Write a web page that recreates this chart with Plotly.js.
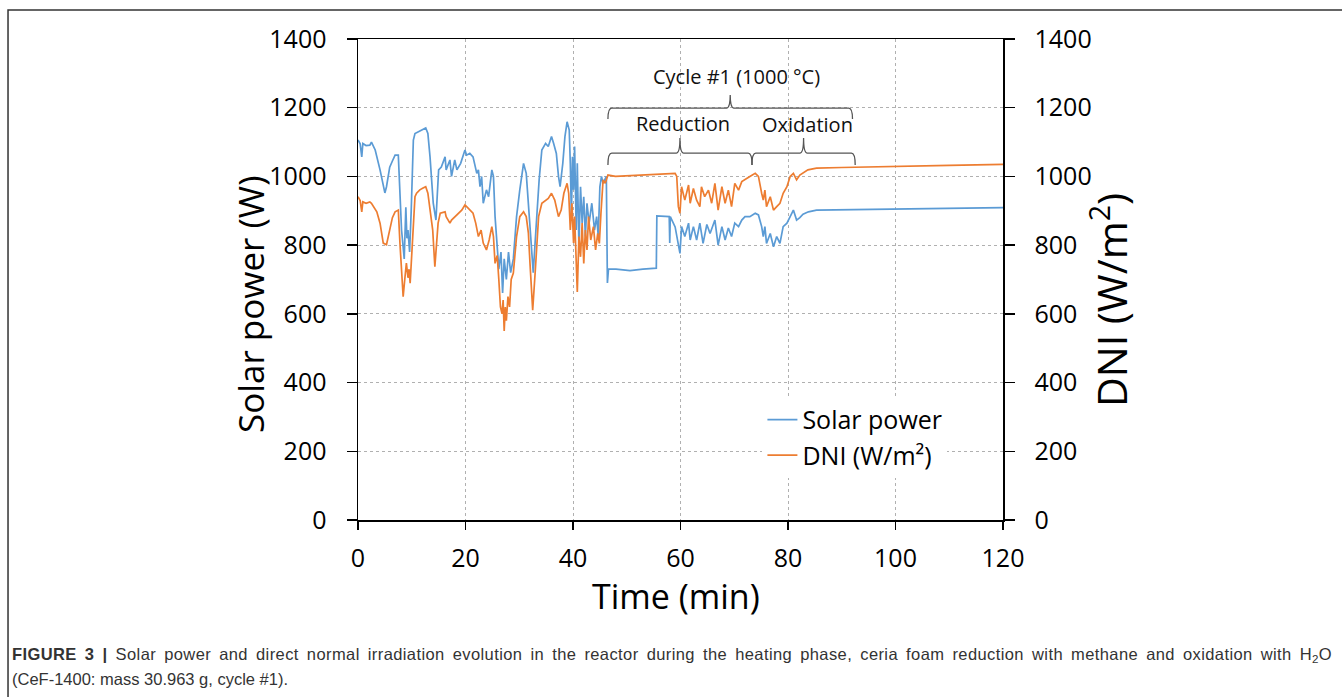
<!DOCTYPE html>
<html>
<head>
<meta charset="utf-8">
<script src="https://cdn.plot.ly/plotly-3.0.1.min.js"></script>
<style>
  html, body { margin: 0; padding: 0; background: #fff; }
  #chart { width: 1342px; height: 697px; }
</style>
</head>
<body>
<div id="chart"></div>
<script>
// ---- Data ----
const powerTime = [0,0.4,0.7,0.9,1.5,2.2,2.5,3.2,4.1,4.6,5.0,5.3,5.9,6.4,6.9,7.5,7.8,8.1,8.4,8.6,8.9,9.1,9.3,9.6,9.9,10.3,10.6,11.2,11.9,12.6,13.0,13.4,14.0,14.5,15.0,15.5,16.2,16.4,17.1,17.4,18.0,18.4,19.1,19.9,20.2,20.8,21.4,22.1,22.4,22.7,23.0,23.3,23.9,24.3,24.9,25.2,25.5,25.9,26.2,26.6,26.9,27.2,27.6,28.0,28.4,28.9,29.5,30.1,30.8,31.3,31.7,32.3,32.6,33.1,33.7,34.2,34.9,35.4,35.8,36.0,36.4,36.9,37.3,37.6,38.1,38.5,38.9,39.3,39.5,39.7,39.9,40.1,40.3,40.6,40.8,41.1,41.4,41.7,42.0,42.3,42.6,43.0,43.5,44.0,44.4,44.7,45.0,45.3,45.6,46.2,46.4,46.6,48,50.6,53,55.5,55.6,57.9,58.0,58.1,59.0,59.6,59.9,60.2,60.8,61.5,61.8,62.4,63.0,63.6,64.2,64.9,65.5,66.4,67.0,67.7,68.3,68.9,69.5,70.1,70.8,71.4,72.0,72.9,73.9,74.5,75.1,75.4,75.7,76.0,76.7,77.3,77.9,78.5,79.1,79.8,80.4,81.0,81.6,82.2,82.8,83.8,85.3,90,95,100,110,120];
const solarPower = [1106,1095,1057,1096,1090,1091,1100,1077,1019,980,952,970,1027,1045,1062,1062,940,844,795,760,910,820,844,780,900,1106,1125,1130,1135,1141,1125,1057,922,873,1019,1027,1057,1019,1048,1000,1048,1019,1038,1077,1062,1067,1057,1009,1019,970,1000,922,961,941,1019,1000,883,806,730,780,661,760,700,780,720,760,883,961,1038,1009,922,806,720,844,990,1077,1096,1087,1106,1116,1096,1067,1000,970,1038,1116,1159,1135,1038,883,1057,961,1087,844,1038,795,970,864,941,825,922,864,922,844,883,825,970,1000,980,1000,690,730,730,726,730,733,885,883,806,883,853,795,776,854,825,864,815,854,815,864,805,860,834,873,800,854,815,850,825,864,854,873,883,883,893,888,854,825,854,805,834,795,825,805,854,864,883,902,873,880,890,897,902,903,905,905,907,909];

const dniTime = [0,0.4,0.7,0.9,1.5,2.2,2.5,3.5,4.1,4.7,5.3,5.9,6.4,6.9,7.5,7.8,8.1,8.4,8.7,9.0,9.3,9.5,9.7,10.0,10.6,10.9,11.5,12.1,12.6,13.0,13.4,13.9,14.3,14.6,14.9,15.3,16.2,16.4,17.1,17.4,18.4,19.3,19.9,20.5,21.4,21.9,22.4,22.9,23.3,23.9,24.4,24.9,25.2,25.5,25.9,26.2,26.5,26.8,27.0,27.2,27.4,27.6,27.9,28.2,28.5,28.9,29.5,30.1,30.8,31.3,31.7,32.0,32.5,33.0,33.6,34.2,34.9,35.4,36.0,36.6,37.3,37.8,38.3,38.9,39.2,39.5,39.8,40.1,40.3,40.6,40.8,41.1,41.4,41.7,42.0,42.3,42.6,42.9,43.3,43.8,44.2,44.6,44.9,45.2,45.6,46.0,46.5,47.9,52,56,59.0,59.3,59.6,59.9,60.2,60.8,61.5,61.8,62.4,63.0,63.6,63.9,64.5,65.2,65.8,66.4,67.0,67.7,68.3,68.9,69.5,70.1,70.8,71.4,72.0,72.9,73.9,74.5,75.1,75.4,75.7,76.0,76.7,77.3,77.9,78.5,79.1,79.8,80.4,81.0,81.6,82.2,83.7,85.3,90,95,100,110,120];
const dni = [941,930,897,926,922,926,922,897,864,806,801,844,880,897,902,806,709,650,700,748,705,730,689,786,941,951,961,966,970,951,902,844,737,800,864,893,897,883,864,873,888,902,917,907,893,864,825,844,806,786,815,854,825,747,770,700,620,600,640,550,620,580,650,620,700,719,825,883,897,883,835,747,611,730,883,922,931,936,951,931,883,902,951,980,951,844,922,806,883,719,664,825,766,864,747,844,786,883,815,854,786,834,805,893,990,980,1004,1000,1004,1006,1009,1000,912,893,970,931,975,922,965,931,912,970,941,960,922,980,902,970,922,960,912,980,960,985,990,1000,1009,1000,951,931,960,912,941,902,912,922,951,970,1000,1009,990,1004,1019,1024,1026,1028,1030,1032,1035];

const seriesNames = ["Solar power", "DNI (W/m²)"];
const yTicks = [0,200,400,600,800,1000,1200,1400];
const xTicks = [0,20,40,60,80,100,120];

// phase annotations (time, min)
const cycleSpan = [46.5, 92.0];
const reductionSpan = [46.5, 73.3];
const oxidationSpan = [73.3, 92.5];
const cycleLabel = "Cycle #1 (1000 °C)";
const phaseLabels = ["Reduction", "Oxidation"];
const axisTitles = {x: "Time (min)", y: "Solar power (W)", y2: "DNI (W/m<sup>2</sup>)"};
const captionLines = [
  "<b>FIGURE 3 |</b> Solar power and direct normal irradiation evolution in the reactor during the heating phase, ceria foam reduction with methane and oxidation with H<sub>2</sub>O",
  "(CeF-1400: mass 30.963 g, cycle #1)."
];

// ---- Styling ----
const FONT = "Open Sans, Noto Sans, sans-serif";
const CAPFONT = "Liberation Sans Narrow, Liberation Sans, Arial, sans-serif";
const BLUE = "#5B9BD5";
const ORANGE = "#ED7D31";

function brace(x0, x1, yBar, yEnd, yTip) {
  const xc = (x0 + x1) / 2;
  const r = 0.7;
  return `M ${x0},${yEnd} Q ${x0},${yBar} ${x0 + r},${yBar} L ${xc - r},${yBar} Q ${xc},${yBar} ${xc},${yTip} ` +
         `Q ${xc},${yBar} ${xc + r},${yBar} L ${x1 - r},${yBar} Q ${x1},${yBar} ${x1},${yEnd}`;
}

const traces = [
  {x: powerTime, y: solarPower, name: seriesNames[0], type: "scatter", mode: "lines",
   line: {color: BLUE, width: 1.7}, yaxis: "y"},
  {x: dniTime, y: dni, name: seriesNames[1], type: "scatter", mode: "lines",
   line: {color: ORANGE, width: 1.7}, yaxis: "y2"}
];

const gridStyle = {gridcolor: "#b0b0b0", gridwidth: 1, griddash: "3px,3px"};

const layout = {
  width: 1342, height: 697, autosize: false,
  margin: {l: 358, r: 339, t: 39, b: 177, pad: 0},
  paper_bgcolor: "#fff", plot_bgcolor: "#fff",
  font: {family: FONT, color: "#000", size: 25},
  showlegend: true,
  legend: {x: 0.627, y: 0.256, xanchor: "left", yanchor: "top", bgcolor: "#fff",
           borderwidth: 0, font: {family: FONT, size: 25, color: "#000"}},
  xaxis: Object.assign({
    range: [0, 120], tickvals: xTicks, ticktext: xTicks.map(String),
    showline: true, linecolor: "#000", linewidth: 1.5, mirror: true,
    ticks: "outside", ticklen: 8, tickwidth: 1.5, tickcolor: "#000",
    showgrid: true, zeroline: false, ticklabelstandoff: 7,
    tickfont: {family: FONT, size: 25, color: "#000"}
  }, gridStyle),
  yaxis: Object.assign({
    range: [0, 1400], tickvals: yTicks, ticktext: yTicks.map(String),
    showline: true, linecolor: "#000", linewidth: 1.5,
    ticks: "outside", ticklen: 10, tickwidth: 1.5, tickcolor: "#000",
    showgrid: true, zeroline: false, ticklabelstandoff: 15,
    tickfont: {family: FONT, size: 25, color: "#000"}
  }, gridStyle),
  yaxis2: {
    range: [0, 1400], tickvals: yTicks, ticktext: yTicks.map(String),
    overlaying: "y", side: "right",
    showline: true, linecolor: "#000", linewidth: 1.5,
    ticks: "outside", ticklen: 10, tickwidth: 1.5, tickcolor: "#000",
    showgrid: false, zeroline: false, ticklabelstandoff: 15,
    tickfont: {family: FONT, size: 25, color: "#000"}
  },
  shapes: [
    {type: "path", xref: "x", yref: "y", path: brace(cycleSpan[0], cycleSpan[1], 1199, 1167, 1237),
     line: {color: "#555", width: 1.3}},
    {type: "path", xref: "x", yref: "y", path: brace(reductionSpan[0], reductionSpan[1], 1068, 1033, 1112),
     line: {color: "#555", width: 1.3}},
    {type: "path", xref: "x", yref: "y", path: brace(oxidationSpan[0], oxidationSpan[1], 1068, 1033, 1112),
     line: {color: "#555", width: 1.3}},
    {type: "rect", xref: "paper", yref: "paper", x0: -0.5426, x1: 1.7, y0: -0.6, y1: 1.0603,
     line: {color: "#333", width: 1.5}, fillcolor: "rgba(0,0,0,0)", layer: "below"}
  ],
  annotations: [
    {xref: "x", yref: "y", x: 70.4, y: 1290, text: cycleLabel, showarrow: false,
     xanchor: "center", yanchor: "middle", font: {family: FONT, size: 20, color: "#111"}},
    {xref: "x", yref: "y", x: 60.5, y: 1155, text: phaseLabels[0], showarrow: false,
     xanchor: "center", yanchor: "middle", font: {family: FONT, size: 20, color: "#111"}},
    {xref: "x", yref: "y", x: 83.6, y: 1150, text: phaseLabels[1], showarrow: false,
     xanchor: "center", yanchor: "middle", font: {family: FONT, size: 20, color: "#111"}},
    {xref: "paper", yref: "paper", x: 0.493, y: -0.157, text: axisTitles.x,
     showarrow: false, xanchor: "center", yanchor: "middle", font: {family: FONT, size: 34, color: "#000"}},
    {xref: "paper", yref: "paper", x: -0.1674, y: 0.449, text: axisTitles.y, textangle: -90,
     showarrow: false, xanchor: "center", yanchor: "middle", font: {family: FONT, size: 35, color: "#000"}},
    {xref: "paper", yref: "paper", x: 1.164, y: 0.457, text: axisTitles.y2, textangle: -90,
     showarrow: false, xanchor: "center", yanchor: "middle", font: {family: FONT, size: 41, color: "#000"}},
    {xref: "paper", yref: "paper", x: -0.5395, y: -0.281, text: captionLines[0], showarrow: false,
     xanchor: "left", yanchor: "middle", align: "left",
     font: {family: CAPFONT, size: 16.5, color: "#333"}},
    {xref: "paper", yref: "paper", x: -0.5395, y: -0.331, text: captionLines[1], showarrow: false,
     xanchor: "left", yanchor: "middle", align: "left",
     font: {family: CAPFONT, size: 16.5, color: "#333"}}
  ]
};

Plotly.newPlot("chart", traces, layout, {displayModeBar: false, staticPlot: true}).then(function (gd) {
  // The reference caption's first line is justified to the full frame width.
  const targetWidth = 1320;
  gd.querySelectorAll("text.annotation-text").forEach(function (t) {
    if (t.textContent.indexOf("FIGURE 3") === 0) {
      t.setAttribute("letter-spacing", "0.4");
      const w = t.getBBox().width;
      const spaces = (t.textContent.match(/ /g) || []).length;
      if (spaces > 0 && w < targetWidth) {
        t.setAttribute("word-spacing", ((targetWidth - w) / spaces).toFixed(2));
      }
    }
  });
});
</script>
</body>
</html>
